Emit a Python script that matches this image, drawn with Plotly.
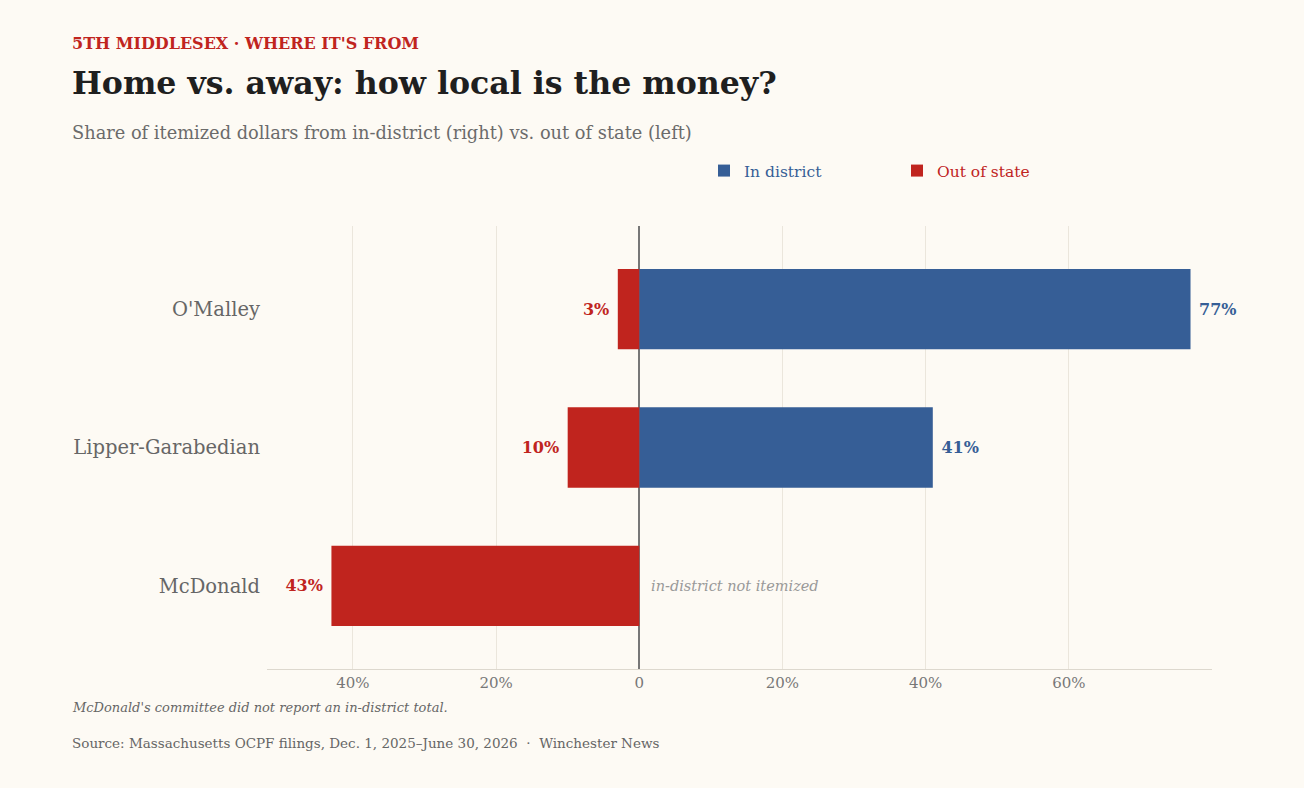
import plotly.graph_objects as go

candidates = ["O'Malley", "Lipper-Garabedian", "McDonald"]
in_district = [77, 41, None]
out_of_state = [3, 10, 43]
tick_vals = [-40, -20, 0, 20, 40, 60]
tick_text = ["40%", "20%", "0", "20%", "40%", "60%"]

BG = "#fdfaf4"
BLUE = "#365e96"
RED = "#c0241e"
FONT = "DejaVu Serif"
NB = "\u00a0"

W, H = 1304, 788
L, R, T, B = 267, 1212, 226, 669


def px(x):
    return (x - L) / (R - L)


def py(y):
    return (B - y) / (B - T)


fig = go.Figure()
fig.add_trace(go.Bar(
    y=candidates, x=in_district, orientation="h",
    name=f"<span style='color:{BLUE}'>In district</span>",
    marker=dict(color=BLUE, line=dict(width=0)),
    text=[f"{NB}{v}%" if v is not None else "" for v in in_district],
    textposition="outside",
    textfont=dict(family=FONT, size=16, color=BLUE, weight="bold"),
    cliponaxis=False, width=0.58, hoverinfo="skip",
))
fig.add_trace(go.Bar(
    y=candidates, x=[-v for v in out_of_state], orientation="h",
    name=f"<span style='color:{RED}'>Out of state</span>",
    marker=dict(color=RED, line=dict(width=0)),
    text=[f"{v}%{NB}" for v in out_of_state],
    textposition="outside",
    textfont=dict(family=FONT, size=16, color=RED, weight="bold"),
    cliponaxis=False, width=0.58, hoverinfo="skip",
))

fig.add_annotation(x=0, y="McDonald", xref="x", yref="y", xshift=10,
                   text="<i>in-district not itemized</i>", showarrow=False,
                   xanchor="left", yanchor="middle",
                   font=dict(family=FONT, size=14.5, color="#999999"))

texts = [
    (44, "<b>5TH MIDDLESEX · WHERE IT'S FROM</b>", 16, RED),
    (83, "<b>Home vs. away: how local is the money?</b>", 31.6, "#1f1f1f"),
    (132, "Share of itemized dollars from in-district (right) vs. out of state (left)", 17.8, "#6b6b6b"),
    (707, "<i>McDonald's committee did not report an in-district total.</i>", 13, "#666666"),
    (743, "Source: Massachusetts OCPF filings, Dec. 1, 2025–June 30, 2026  ·  Winchester News", 13.5, "#666666"),
]
for y, t, s, c in texts:
    fig.add_annotation(x=px(70), y=py(y), xref="paper", yref="paper", text=t,
                       showarrow=False, xanchor="left", yanchor="middle",
                       font=dict(family=FONT, size=s, color=c))

fig.update_layout(
    width=W, height=H,
    margin=dict(l=L, r=W - R, t=T, b=H - B),
    paper_bgcolor=BG, plot_bgcolor=BG,
    barmode="overlay",
    font=dict(family=FONT, color="#666666"),
    showlegend=True,
    legend=dict(orientation="h", x=px(704), y=py(171), xanchor="left", yanchor="middle",
                entrywidth=148, font=dict(family=FONT, size=15.5),
                bgcolor="rgba(0,0,0,0)", traceorder="normal"),
    xaxis=dict(range=[-52, 80], tickvals=tick_vals, ticktext=tick_text,
               showgrid=True, gridcolor="#ebe6dc", gridwidth=1,
               zeroline=True, zerolinecolor="#777777", zerolinewidth=1.5,
               showline=True, linecolor="#ddd8ce", linewidth=1,
               tickfont=dict(family=FONT, size=15, color="#777777"),
               ticks="", fixedrange=True),
    yaxis=dict(categoryorder="array", categoryarray=candidates,
               autorange=False, range=[2.6, -0.6],
               showgrid=False, zeroline=False, showline=False, ticks="",
               ticklabelstandoff=6,
               tickfont=dict(family=FONT, size=19.5, color="#666666"),
               fixedrange=True),
)

fig.write_html("out.html", config={"displayModeBar": False})
